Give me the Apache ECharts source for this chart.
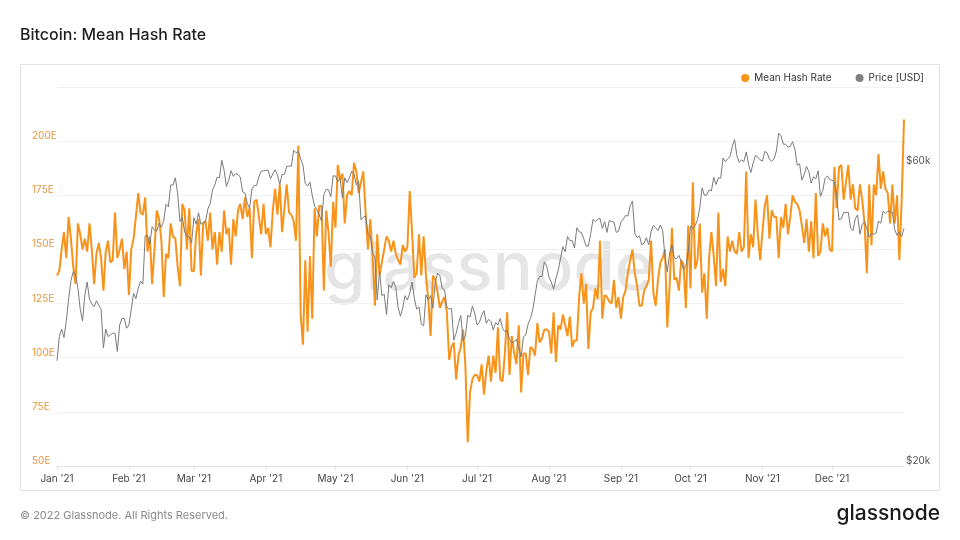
<!DOCTYPE html>
<html>
<head>
<meta charset="utf-8">
<script src="https://cdn.jsdelivr.net/npm/echarts@6/dist/echarts.min.js"></script>
<style>
  html, body { margin: 0; padding: 0; background: #fff; }
  #main { width: 960px; height: 540px; }
</style>
</head>
<body>
<div id="main"></div>
<script>
// daily mean hash rate (EH/s), Jan 1 2021 .. Jan 1 2022
var hashRate = [
  138,140,150,158,146,165,155,142,134,162, 157,150,155,149,162,150,134,148,153,146,
  131,149,154,144,145,167,146,150,155,141, 149,129,150,155,165,176,167,166,174,149,
  156,134,150,168,164,154,128,148,146,162, 156,155,142,133,171,168,150,169,140,140,
  158,164,138,162,163,154,167,150,158,143, 158,149,168,157,160,143,164,156,168,171,
  164,174,165,169,146,172,173,165,157,171, 157,160,151,168,178,166,180,158,169,180,
  167,166,163,154,198,120,106,145,112,147, 118,169,156,170,
  170,131,168,158,142,172,160,189,182,185, 162,175,177,175,190,186,176,181,186,167,
  150,164,147,124,157,138,144,150,156,154, 149,154,148,145,143,152,149,151,177,158,
  137,139,157,138,156,138,127,110,138,136, 130,123,126,128,121,99,105,107,90,101,
  105,113,96,61,84,90,92,92,89,97, 83,94,101,89,101,93,114,90,89,102,
  121,92,110,102,97,115,84,102,102,92, 105,104,101,116,107,109,113,113,112,102,
  121,98,115,113,120,115,110,119,105,108, 108,128,139,125,134,104,121,123,132,127,
  154,118,129,128,126,125,136,123,128,118, 128,131,139,145,150,139,133,124,
  124,131,133,136,154,130,124,136,144,146, 150,114,133,160,136,137,131,145,143,123,
  161,132,181,141,145,162,130,139,118,146, 158,147,133,167,135,141,133,156,149,154,
  149,148,158,149,151,186,146,157,151,173, 157,145,158,170,175,155,168,165,165,146,
  165,160,171,157,165,175,172,171,168,161, 153,164,149,163,146,176,147,149,162,156,
  160,150,149,188,169,188,189,173,181,189, 173,180,169,168,180,173,162,139,180,152,
  180,175,194,178,186,178,176,162,180,162, 175,145,173,210
];

// daily close price, thousands of USD
var priceK = [
  29.4,32.1,33.0,32.0,34.0,36.8,39.4,40.7,40.2,38.4,35.5,34.0,37.4,39.2,36.8,36.2,35.8,36.6,36.0,35.5,30.8,33.0,32.1,32.3,32.5,32.5,30.4,33.5,34.3,34.3,33.1,
  33.5,35.5,37.6,36.9,38.3,39.3,38.9,46.4,46.5,45.0,48.0,47.4,47.2,48.6,47.9,49.1,52.1,51.6,55.9,55.9,57.4,54.1,48.9,49.7,47.1,46.3,46.2,45.2,
  49.6,48.4,50.5,48.4,48.8,48.9,51.2,52.2,54.9,55.9,57.5,57.4,61.2,59.0,55.6,56.9,58.9,57.7,58.3,58.1,57.5,54.5,54.3,52.3,51.3,55.1,55.8,55.8,57.6,58.8,58.9,
  59.0,59.0,57.2,58.2,59.1,58.0,56.0,58.1,58.1,59.8,59.9,59.9,63.5,62.9,63.2,61.5,60.1,56.2,55.7,56.5,53.8,51.7,51.1,50.1,49.0,54.0,55.0,54.9,53.6,57.8,
  57.8,56.6,57.2,53.3,57.4,56.4,57.4,58.8,58.2,55.9,56.7,49.2,49.7,49.9,46.8,46.4,43.6,42.9,36.7,40.8,37.3,37.5,34.8,38.8,38.4,39.3,38.4,35.7,34.6,35.7,37.3,
  36.7,37.6,39.2,36.9,35.5,35.8,33.6,33.4,37.4,36.7,37.3,35.6,39.1,40.5,40.1,38.3,38.1,35.8,35.5,35.6,31.7,32.5,33.7,34.7,31.6,32.2,34.7,34.5,35.9,35.0,
  33.5,33.8,34.7,35.3,33.7,34.2,33.9,32.9,33.8,33.5,34.3,33.1,32.7,32.8,31.8,31.4,31.5,31.8,30.8,29.8,32.1,32.3,33.6,34.3,35.4,37.3,39.4,40.0,40.0,42.2,41.6,
  39.9,39.2,38.2,39.7,40.9,42.8,44.6,43.8,46.3,45.6,45.6,44.4,47.8,47.1,47.0,45.9,44.7,44.7,46.8,49.3,48.9,49.3,49.5,47.7,48.9,47.0,49.1,48.9,48.8,47.0,47.2,
  48.8,49.3,50.0,49.9,51.8,52.7,46.8,46.1,46.4,44.9,45.2,46.1,44.9,47.1,48.2,47.8,47.3,48.3,47.3,43.0,40.7,43.6,44.9,42.8,42.7,43.2,42.2,41.0,41.5,43.8,
  48.1,47.7,48.2,49.2,51.5,55.3,53.8,53.9,54.9,54.7,57.5,56.0,57.4,57.3,61.7,60.9,61.5,62.0,64.3,66.0,62.2,60.7,61.3,60.9,63.1,60.3,58.5,60.6,62.3,61.9,61.3,
  61.0,63.2,62.9,61.4,61.0,61.5,63.3,67.6,66.9,64.9,64.9,64.2,64.4,65.5,63.6,60.1,60.4,56.9,58.1,59.8,58.7,56.3,57.6,57.2,58.9,53.6,54.8,57.3,57.8,57.0,
  56.9,56.5,53.6,49.2,49.4,50.6,50.5,50.6,47.7,47.3,49.4,50.1,46.7,48.4,48.9,47.6,46.2,46.8,46.7,46.9,49.0,48.6,50.8,50.4,50.8,50.7,50.6,47.5,46.5,47.1,46.3,
  47.7
];

var monthNames = ['Jan','Feb','Mar','Apr','May','Jun','Jul','Aug','Sep','Oct','Nov','Dec'];
var priceTicks = [20, 60];

// one category per day
var dates = [];
for (var i = 0; i < hashRate.length; i++) {
  var d = new Date(Date.UTC(2021, 0, 1 + i));
  dates.push(d.toISOString().slice(0, 10));
}

function isMonthStart(idx, val) {
  return val.slice(8) === '01' && val.slice(0, 4) === '2021';
}

var myChart = echarts.init(document.getElementById('main'));

var option = {
  animation: false,
  textStyle: { fontFamily: 'Inter, "Noto Sans", sans-serif' },
  title: {
    text: 'Bitcoin: Mean Hash Rate',
    left: 20,
    top: 27,
    padding: 0,
    textStyle: { fontSize: 16, fontWeight: 500, color: '#1f1f1f' }
  },
  legend: {
    right: 36,
    top: 73,
    padding: 0,
    icon: 'circle',
    itemWidth: 8,
    itemHeight: 8,
    itemGap: 24,
    textStyle: { fontSize: 10, color: '#333' },
    data: ['Mean Hash Rate', 'Price [USD]']
  },
  grid: { left: 57, right: 56, top: 87, bottom: 74 },
  xAxis: {
    type: 'category',
    data: dates,
    boundaryGap: false,
    axisLine: { lineStyle: { color: '#e3e3e3' } },
    axisTick: { interval: isMonthStart, length: 4, lineStyle: { color: '#e3e3e3' } },
    axisLabel: {
      interval: isMonthStart,
      margin: 8,
      fontSize: 10,
      color: '#444',
      formatter: function (v) {
        return monthNames[parseInt(v.slice(5, 7), 10) - 1] + " '" + v.slice(2, 4);
      }
    },
    splitLine: { show: false }
  },
  yAxis: [
    {
      type: 'value',
      min: 50,
      max: 225,
      interval: 25,
      position: 'left',
      axisLine: { show: false },
      axisTick: { show: false },
      axisLabel: {
        align: 'left',
        margin: 25,
        verticalAlign: 'bottom',
        fontSize: 10,
        color: '#e5973d',
        formatter: function (v) { return v >= 225 ? '' : v + 'E'; }
      },
      splitLine: { lineStyle: { color: '#f1f1f1' } }
    },
    {
      type: 'log',
      min: 20,
      max: 80,
      position: 'right',
      axisLine: { show: false },
      axisTick: { show: false },
      splitLine: { show: false },
      axisLabel: {
        customValues: priceTicks,
        margin: 2,
        verticalAlign: 'bottom',
        fontSize: 10,
        color: '#555',
        formatter: function (v) { return '$' + Math.round(v) + 'k'; }
      }
    }
  ],
  graphic: [
    {
      type: 'rect',
      z: -10,
      silent: true,
      shape: { x: 20.5, y: 64.5, width: 919, height: 426 },
      style: { fill: 'none', stroke: '#e3e3e3', lineWidth: 1 }
    },
    {
      type: 'text',
      z: 0,
      silent: true,
      left: 324,
      top: 236,
      style: { text: 'glassnode', fontSize: 67, fontWeight: 500, fontFamily: 'Inter', fill: 'rgba(0,0,0,0.1)' }
    },
    {
      type: 'text',
      left: 20,
      top: 510,
      style: { text: '\u00a9 2022 Glassnode. All Rights Reserved.', fontSize: 11, fontFamily: 'Inter', fill: '#8a8a8a' }
    },
    {
      type: 'text',
      right: 20,
      top: 503,
      style: { text: 'glassnode', fontSize: 21, fontWeight: 500, fontFamily: 'Inter', fill: '#1c1c1c' }
    }
  ],
  series: [
    {
      name: 'Mean Hash Rate',
      type: 'line',
      yAxisIndex: 0,
      data: hashRate,
      showSymbol: false,
      z: 2,
      itemStyle: { color: '#f7931a' },
      lineStyle: { color: '#f7931a', width: 2 }
    },
    {
      name: 'Price [USD]',
      type: 'line',
      yAxisIndex: 1,
      data: priceK,
      showSymbol: false,
      z: 3,
      itemStyle: { color: '#808080' },
      lineStyle: { color: '#7a7a7a', width: 1 }
    }
  ]
};

if (option && typeof option === 'object') {
  myChart.setOption(option, true);
}
</script>
</body>
</html>
